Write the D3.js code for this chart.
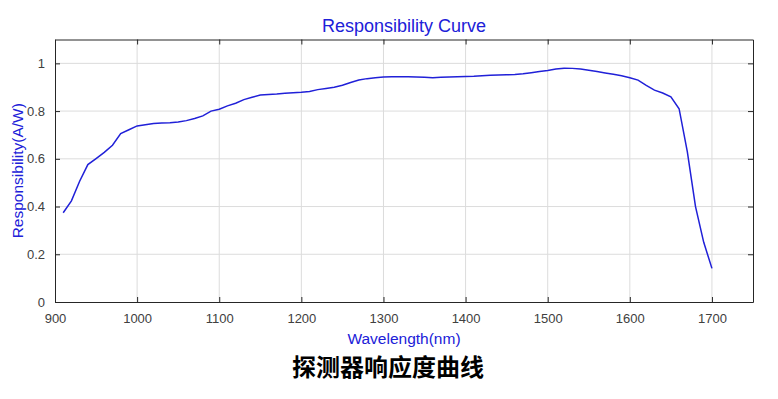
<!DOCTYPE html>
<html>
<head>
<meta charset="utf-8">
<script src="https://cdn.jsdelivr.net/npm/d3@7"></script>
<style>
  body { margin: 0; background: #fff; }
  .grid line { stroke: #dcdcdc; stroke-width: 1; }
  .tick text { font-family: "Liberation Sans", Arial, sans-serif; font-size: 13px; fill: #404040; }
</style>
</head>
<body>
<div id="chart"></div>
<script>
// wavelength (nm) and responsibility (A/W)
var wavelength = [910, 920, 930, 940, 950, 960, 970, 980, 990, 1000,
  1010, 1020, 1030, 1040, 1050, 1060, 1070, 1080, 1090, 1100,
  1110, 1120, 1130, 1140, 1150, 1160, 1170, 1180, 1190, 1200,
  1210, 1220, 1230, 1240, 1250, 1260, 1270, 1280, 1290, 1300,
  1310, 1320, 1330, 1340, 1350, 1360, 1370, 1380, 1390, 1400,
  1410, 1420, 1430, 1440, 1450, 1460, 1470, 1480, 1490, 1500,
  1510, 1520, 1530, 1540, 1550, 1560, 1570, 1580, 1590, 1600,
  1610, 1620, 1630, 1640, 1650, 1660, 1670, 1680, 1690, 1700];
var responsibility = [0.374, 0.424, 0.506, 0.576, 0.601, 0.627, 0.657, 0.706, 0.722, 0.738,
  0.743, 0.748, 0.750, 0.751, 0.754, 0.760, 0.769, 0.780, 0.800, 0.808,
  0.822, 0.833, 0.848, 0.858, 0.867, 0.870, 0.872, 0.875, 0.877, 0.879,
  0.882, 0.890, 0.895, 0.900, 0.908, 0.920, 0.930, 0.936, 0.940, 0.943,
  0.944, 0.944, 0.944, 0.943, 0.942, 0.940, 0.942, 0.943, 0.944, 0.945,
  0.946, 0.948, 0.950, 0.951, 0.952, 0.953, 0.956, 0.961, 0.966, 0.970,
  0.976, 0.980, 0.979, 0.976, 0.971, 0.966, 0.960, 0.954, 0.948, 0.940,
  0.930, 0.908, 0.888, 0.876, 0.860, 0.810, 0.630, 0.400, 0.250, 0.141];
var xTicks = [900, 1000, 1100, 1200, 1300, 1400, 1500, 1600, 1700];
var yTicks = [0, 0.2, 0.4, 0.6, 0.8, 1];

var W = 778, H = 399;
var margin = {top: 39.5, right: 25, bottom: 97, left: 55};
var width = W - margin.left - margin.right,
    height = H - margin.top - margin.bottom;
var blue = "#2020d8";

var svg = d3.select("#chart").append("svg")
    .attr("width", W)
    .attr("height", H);

var g = svg.append("g")
    .attr("transform", "translate(" + margin.left + "," + margin.top + ")");

var x = d3.scaleLinear().domain([900, 1750]).range([0, width]);
var y = d3.scaleLinear().domain([0, 1.1]).range([height, 0]);

// grid
g.append("g").attr("class", "grid")
  .selectAll("line").data(xTicks.slice(1)).enter().append("line")
    .attr("x1", function(d) { return x(d); }).attr("x2", function(d) { return x(d); })
    .attr("y1", 0).attr("y2", height);
g.append("g").attr("class", "grid")
  .selectAll("line").data(yTicks.slice(1)).enter().append("line")
    .attr("y1", function(d) { return y(d); }).attr("y2", function(d) { return y(d); })
    .attr("x1", 0).attr("x2", width);

// axes (box with inward ticks like matlab)
function styleAxis(sel) {
  sel.select(".domain").attr("stroke", "#262626");
  sel.selectAll(".tick line").attr("stroke", "#262626");
}
g.append("g")
    .attr("transform", "translate(0," + height + ")")
    .call(d3.axisBottom(x).tickValues(xTicks).tickSizeInner(-5).tickSizeOuter(0).tickPadding(12).tickFormat(d3.format("d")))
    .call(styleAxis);
g.append("g")
    .call(d3.axisTop(x).tickValues(xTicks).tickSizeInner(-5).tickSizeOuter(0).tickFormat(""))
    .call(styleAxis);
g.append("g")
    .call(d3.axisLeft(y).tickValues(yTicks).tickSizeInner(-5).tickSizeOuter(0).tickPadding(10).tickFormat(d3.format("~g")))
    .call(styleAxis);
g.append("g")
    .attr("transform", "translate(" + width + ",0)")
    .call(d3.axisRight(y).tickValues(yTicks).tickSizeInner(-5).tickSizeOuter(0).tickFormat(""))
    .call(styleAxis);

// curve
var data = wavelength.map(function(w, i) { return {w: w, r: responsibility[i]}; });
g.append("path")
    .datum(data)
    .attr("fill", "none")
    .attr("stroke", blue)
    .attr("stroke-width", 1.5)
    .attr("d", d3.line()
      .x(function(d) { return x(d.w); })
      .y(function(d) { return y(d.r); }));

// labels
svg.append("text")
    .attr("x", margin.left + width / 2).attr("y", 31.5)
    .attr("text-anchor", "middle")
    .style("font-family", "Liberation Sans, Arial, sans-serif")
    .style("font-size", "18px")
    .attr("fill", blue)
    .text("Responsibility Curve");

svg.append("text")
    .attr("x", margin.left + width / 2).attr("y", 344)
    .attr("text-anchor", "middle")
    .style("font-family", "Liberation Sans, Arial, sans-serif")
    .style("font-size", "15.5px")
    .attr("fill", blue)
    .text("Wavelength(nm)");

svg.append("text")
    .attr("transform", "translate(23," + (margin.top + height / 2) + ") rotate(-90)")
    .attr("text-anchor", "middle")
    .style("font-family", "Liberation Sans, Arial, sans-serif")
    .style("font-size", "15.5px")
    .attr("fill", blue)
    .text("Responsibility(A/W)");

svg.append("text")
    .attr("x", 388).attr("y", 376)
    .attr("text-anchor", "middle")
    .style("font-family", "Noto Sans CJK SC, sans-serif")
    .style("font-size", "24px")
    .style("font-weight", "bold")
    .attr("fill", "#000")
    .text("探测器响应度曲线");
</script>
</body>
</html>
